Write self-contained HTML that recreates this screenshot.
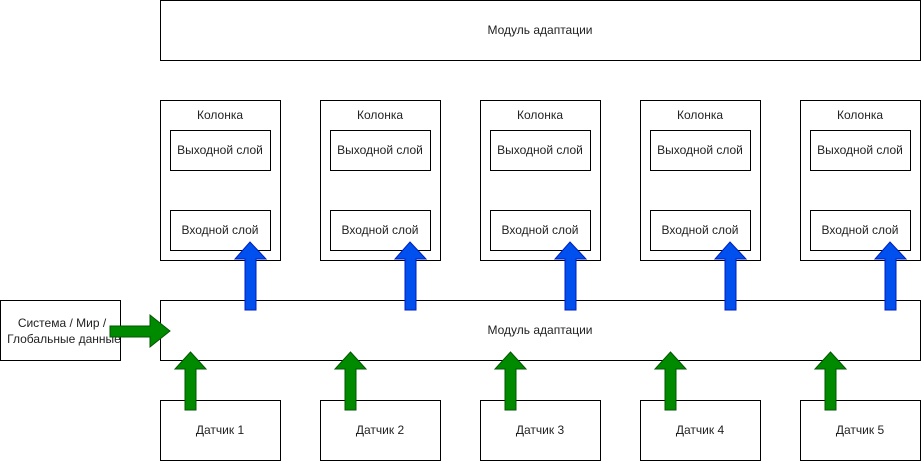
<!DOCTYPE html>
<html><head><meta charset="utf-8"><style>
html,body{margin:0;padding:0;background:#fff;}
svg{display:block;}
text{font-family:"Liberation Sans",Arial,sans-serif;font-size:12px;fill:#222;text-anchor:middle;}
</style></head><body>
<svg width="921" height="462" viewBox="0 0 921 462" xmlns="http://www.w3.org/2000/svg">
<g fill="#fff" stroke="#000" stroke-width="1">
<rect x="160.5" y="0.5" width="760" height="60"/>
<rect x="160.5" y="300.5" width="760" height="60"/>
<rect x="0.5" y="300.5" width="120" height="60"/>
</g>
<text x="540" y="34">Модуль адаптации</text>
<text x="540" y="334">Модуль адаптации</text>
<text x="62" y="327">Система / Мир /</text>
<text x="64" y="343">Глобальные данные</text>

<g fill="#fff" stroke="#000">
<rect x="160.5" y="100.5" width="120" height="160"/><rect x="170.5" y="130.5" width="100" height="40"/><rect x="170.5" y="210.5" width="100" height="40"/>
<rect x="320.5" y="100.5" width="120" height="160"/><rect x="330.5" y="130.5" width="100" height="40"/><rect x="330.5" y="210.5" width="100" height="40"/>
<rect x="480.5" y="100.5" width="120" height="160"/><rect x="490.5" y="130.5" width="100" height="40"/><rect x="490.5" y="210.5" width="100" height="40"/>
<rect x="640.5" y="100.5" width="120" height="160"/><rect x="650.5" y="130.5" width="100" height="40"/><rect x="650.5" y="210.5" width="100" height="40"/>
<rect x="800.5" y="100.5" width="120" height="160"/><rect x="810.5" y="130.5" width="100" height="40"/><rect x="810.5" y="210.5" width="100" height="40"/>
<rect x="160.5" y="400.5" width="120" height="60"/>
<rect x="320.5" y="400.5" width="120" height="60"/>
<rect x="480.5" y="400.5" width="120" height="60"/>
<rect x="640.5" y="400.5" width="120" height="60"/>
<rect x="800.5" y="400.5" width="120" height="60"/>
</g>
<text x="220" y="119">Колонка</text><text x="220" y="154">Выходной слой</text><text x="220" y="234">Входной слой</text>
<text x="380" y="119">Колонка</text><text x="380" y="154">Выходной слой</text><text x="380" y="234">Входной слой</text>
<text x="540" y="119">Колонка</text><text x="540" y="154">Выходной слой</text><text x="540" y="234">Входной слой</text>
<text x="700" y="119">Колонка</text><text x="700" y="154">Выходной слой</text><text x="700" y="234">Входной слой</text>
<text x="860" y="119">Колонка</text><text x="860" y="154">Выходной слой</text><text x="860" y="234">Входной слой</text>
<text x="220" y="434">Датчик 1</text>
<text x="380" y="434">Датчик 2</text>
<text x="540" y="434">Датчик 3</text>
<text x="700" y="434">Датчик 4</text>
<text x="860" y="434">Датчик 5</text>

<g fill="#0050ef" stroke="#001dbc" stroke-width="1">
<path d="M245,310 L245,259 L235,259 L250,242 L266,259 L256,259 L256,310 Z"/>
<path d="M405,310 L405,259 L395,259 L410,242 L426,259 L416,259 L416,310 Z"/>
<path d="M565,310 L565,259 L555,259 L570,242 L586,259 L576,259 L576,310 Z"/>
<path d="M725,310 L725,259 L715,259 L730,242 L746,259 L736,259 L736,310 Z"/>
<path d="M885,310 L885,259 L875,259 L890,242 L906,259 L896,259 L896,310 Z"/>
</g>
<g fill="#008a00" stroke="#005700" stroke-width="1">
<path d="M185,410 L185,369 L175,369 L190.5,352 L206,369 L196,369 L196,410 Z"/>
<path d="M345,410 L345,369 L335,369 L350.5,352 L366,369 L356,369 L356,410 Z"/>
<path d="M505,410 L505,369 L495,369 L510.5,352 L526,369 L516,369 L516,410 Z"/>
<path d="M665,410 L665,369 L655,369 L670.5,352 L686,369 L676,369 L676,410 Z"/>
<path d="M825,410 L825,369 L815,369 L830.5,352 L846,369 L836,369 L836,410 Z"/>
<path d="M110,326 L150,326 L150,315 L170,331 L150,347 L150,337 L110,337 Z"/>
</g>
</svg>
</body></html>
